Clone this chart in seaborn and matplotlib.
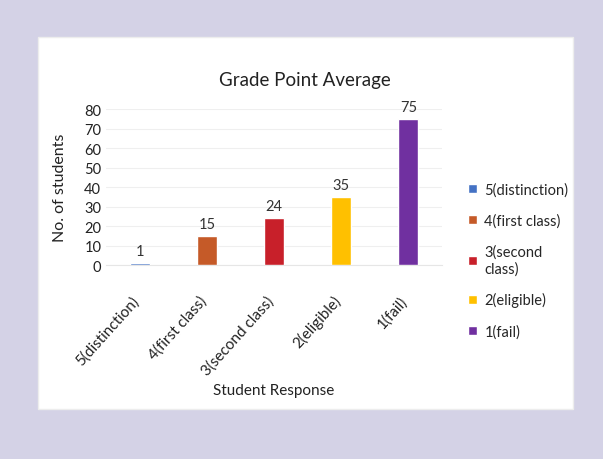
import matplotlib
matplotlib.use("Agg")
import matplotlib.pyplot as plt
import matplotlib.patches as mpatches
import matplotlib.transforms as mtransforms
import seaborn as sns
import pandas as pd

categories = ['5(distinction)', '4(first class)', '3(second class)', '2(eligible)', '1(fail)']
legend_labels = ['5(distinction)', '4(first class)', '3(second\nclass)', '2(eligible)', '1(fail)']
students = [1, 15, 24, 35, 75]
colors = ['#4472C4', '#C55A28', '#C8202A', '#FFC000', '#7030A0']
yticks = [0, 10, 20, 30, 40, 50, 60, 70, 80]


def main():
    sns.set_style('white')
    plt.rcParams['font.family'] = ['Lato', 'DejaVu Sans']

    df = pd.DataFrame({'grade': categories, 'count': students})

    fig = plt.figure(figsize=(6.03, 4.6), dpi=100)
    fig.patch.set_facecolor('#D4D2E6')

    # white card behind the chart
    card = mpatches.Rectangle((0.063, 0.109), 0.887, 0.809, transform=fig.transFigure,
                              facecolor='white', edgecolor='#EDEDED', linewidth=1, zorder=-5)
    fig.patches.append(card)

    ax = fig.add_axes([0.176, 0.4217, 0.557, 0.339])
    ax.set_zorder(2)
    ax.set_facecolor('white')
    sns.barplot(data=df, x='grade', y='count', hue='grade', palette=colors,
                saturation=1, width=0.3, legend=False, ax=ax, zorder=3)

    for i, v in enumerate(students):
        ax.text(i, v + 2.5, str(v), ha='center', va='bottom', fontsize=10.5, color='#333333')

    ax.set_ylim(0, 80)
    ax.set_yticks(yticks)
    ax.set_xlim(-0.5, 4.5)
    ax.yaxis.grid(True, color='#EFEFEF', linewidth=0.8, zorder=0)
    ax.set_axisbelow(True)
    for s in ['top', 'right', 'left']:
        ax.spines[s].set_visible(False)
    ax.spines['bottom'].set_color('#E6E6E6')
    ax.tick_params(axis='both', length=0, labelsize=10.5, colors='#222222')
    ax.tick_params(axis='x', pad=20, labelsize=11)
    ax.set_xticks(range(len(categories)))
    ax.set_xticklabels(categories, rotation=48, ha='right', rotation_mode='anchor')
    shift = mtransforms.ScaledTranslation(-6 / 72, 0, fig.dpi_scale_trans)
    for lbl in ax.get_xticklabels():
        lbl.set_transform(lbl.get_transform() + shift)

    ax.set_ylabel('No. of students', fontsize=11.5, color='#222222', labelpad=12)
    ax.set_xlabel('Student Response', fontsize=11, color='#222222', labelpad=4)
    fig.text(0.506, 0.826, 'Grade Point Average', fontsize=13.5, color='#222222',
             ha='center', va='center')

    handles = [mpatches.Patch(facecolor=c, label=l) for c, l in zip(colors, legend_labels)]
    fig.legend(handles=handles, loc='upper left', bbox_to_anchor=(0.755, 0.63),
               frameon=False, fontsize=10.5, handlelength=0.6, handleheight=0.6,
               handletextpad=0.5, labelspacing=1.15)

    fig.savefig('out.png', dpi=100, facecolor=fig.get_facecolor())
    plt.close(fig)


if __name__ == "__main__":
    main()
